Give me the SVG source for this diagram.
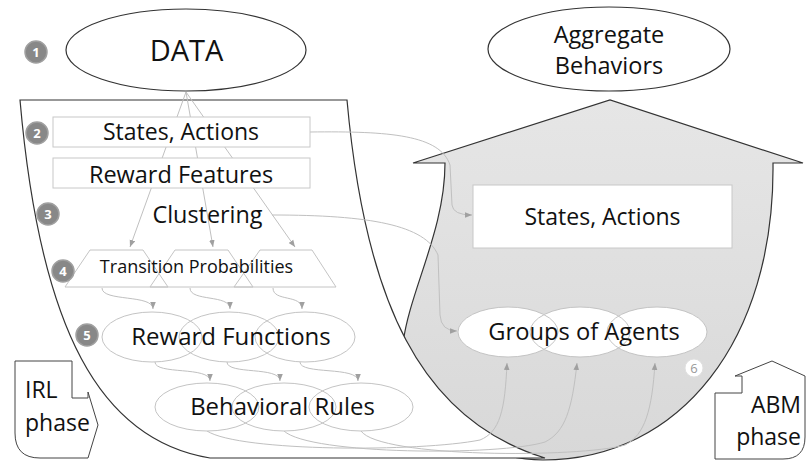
<svg xmlns="http://www.w3.org/2000/svg" width="807" height="461" viewBox="0 0 807 461">
  <defs>
    <linearGradient id="abmFill" x1="0" y1="0" x2="0" y2="1">
      <stop offset="0" stop-color="#e6e6e6"/>
      <stop offset="1" stop-color="#d8d8d8"/>
    </linearGradient>
    <marker id="ah" viewBox="0 0 10 10" refX="10" refY="5" markerWidth="7" markerHeight="7" markerUnits="userSpaceOnUse" orient="auto">
      <path d="M0,1 L10,5 L0,9 Z" fill="#a0a0a0"/>
    </marker>
    <style>
      text { font-family: "Open Sans", "Liberation Sans", sans-serif; fill: #111; }
      .t { font-size: 23.5px; text-anchor: middle; }
      .tp { font-size: 18px; text-anchor: middle; }
      .phase { font-size: 23px; }
      .big { stroke: #333; stroke-width: 1.2; }
      .box { fill: #fff; stroke: #c8c8c8; stroke-width: 1; }
      .soft { fill: none; stroke: #c4c4c4; stroke-width: 1; }
      .fillw { fill: #fff; stroke: none; }
      .conn { fill: none; stroke: #c0c0c0; stroke-width: 1; marker-end: url(#ah); }
      .num circle { fill: #888; stroke: #a0a0a0; stroke-width: 1.5; }
      .num text { font-size: 13px; font-weight: bold; fill: #fff; text-anchor: middle; }
    </style>
  </defs>

  <rect width="807" height="461" fill="#fff"/>

  <!-- ABM phase: upward arrow with rounded bowl -->
  <path id="abm-region" class="big" fill="url(#abmFill)"
        d="M413,163 L610,100 L803,163 L773,163 C775,340 680,460 543,460 C470,460 395,400 403,343 C410,290 445,230 445,163 Z"/>

  <!-- IRL phase: curved band -->
  <path id="irl-region" class="big" fill="#fff"
        d="M20,100 L347,100 C365,300 420,420 545,458 L210,458 C100,440 40,330 20,100 Z"/>

  <!-- connectors -->
  <g id="connectors">
    <path class="conn" d="M186,92 L130,247"/>
    <path class="conn" d="M186,92 L213,247"/>
    <path class="conn" d="M186,92 L295,247"/>

    <path class="conn" d="M102,288 C102,302 153,294 153,309"/>
    <path class="conn" d="M190,288 C190,302 230,294 230,309"/>
    <path class="conn" d="M273,288 C273,302 302,294 302,309"/>

    <path class="conn" d="M155,362 C155,375 210,366 210,381"/>
    <path class="conn" d="M227,362 C227,375 280,366 280,381"/>
    <path class="conn" d="M300,362 C300,375 358,366 358,381"/>

    <path class="conn" d="M310,132 C390,131 440,135 450,165 L452,205 Q453,215 472,215"/>
    <path class="conn" d="M272,215 C370,215 425,225 438,255 L440,315 Q441,331 457,331"/>

    <path class="conn" d="M207,431 C240,452 420,452 480,440 C500,432 505,410 507,363"/>
    <path class="conn" d="M284,431 C310,455 500,456 545,442 C565,432 572,410 577,363"/>
    <path class="conn" d="M361,431 C380,458 580,458 625,445 C645,435 652,410 655,363"/>
  </g>

  <!-- nodes -->
  <g id="data">
    <ellipse class="big" fill="#fff" cx="186" cy="50" rx="120" ry="41"/>
    <text x="186.5" y="61" style="font-size:29px;text-anchor:middle">DATA</text>
  </g>

  <g id="aggregate-behaviors">
    <ellipse class="big" fill="#fff" cx="609" cy="49" rx="121" ry="42"/>
    <text class="t" x="609" y="42.5">Aggregate</text>
    <text class="t" x="609" y="74">Behaviors</text>
  </g>

  <g id="states-actions-irl">
    <rect class="box" x="53" y="117" width="257" height="30"/>
    <text class="t" x="181" y="140" style="font-size:23px">States, Actions</text>
  </g>

  <g id="reward-features">
    <rect class="box" x="53" y="158" width="257" height="30"/>
    <text class="t" x="181" y="182.5" style="font-size:23.5px">Reward Features</text>
  </g>

  <g id="clustering">
    <text class="t" x="207.5" y="223" style="font-size:23.4px">Clustering</text>
  </g>

  <g id="transition-probabilities">
    <path class="fillw" d="M90,250 L143,250 L168,287 L65,287 Z M175,250 L228,250 L253,287 L150,287 Z M260,250 L312,250 L336,287 L234,287 Z"/>
    <path class="soft" d="M90,250 L143,250 L168,287 L65,287 Z M175,250 L228,250 L253,287 L150,287 Z M260,250 L312,250 L336,287 L234,287 Z"/>
    <text class="tp" x="196.5" y="272.5">Transition Probabilities</text>
  </g>

  <g id="reward-functions">
    <ellipse class="fillw" cx="152" cy="337" rx="50" ry="25"/>
    <ellipse class="fillw" cx="229" cy="337" rx="50" ry="25"/>
    <ellipse class="fillw" cx="305" cy="337" rx="50" ry="25"/>
    <ellipse class="soft" cx="152" cy="337" rx="50" ry="25"/>
    <ellipse class="soft" cx="229" cy="337" rx="50" ry="25"/>
    <ellipse class="soft" cx="305" cy="337" rx="50" ry="25"/>
    <text class="t" x="231" y="345" style="font-size:24px">Reward Functions</text>
  </g>

  <g id="behavioral-rules">
    <ellipse class="fillw" cx="207" cy="407" rx="52" ry="24"/>
    <ellipse class="fillw" cx="284" cy="407" rx="52" ry="24"/>
    <ellipse class="fillw" cx="361" cy="407" rx="52" ry="24"/>
    <ellipse class="soft" cx="207" cy="407" rx="52" ry="24"/>
    <ellipse class="soft" cx="284" cy="407" rx="52" ry="24"/>
    <ellipse class="soft" cx="361" cy="407" rx="52" ry="24"/>
    <text class="t" x="282.5" y="415" style="font-size:23.9px">Behavioral Rules</text>
  </g>

  <g id="states-actions-abm">
    <rect class="box" x="473" y="185" width="259" height="63"/>
    <text class="t" x="602.5" y="225" style="font-size:23px">States, Actions</text>
  </g>

  <g id="groups-of-agents">
    <ellipse class="fillw" cx="508" cy="332" rx="50" ry="25"/>
    <ellipse class="fillw" cx="580" cy="332" rx="50" ry="25"/>
    <ellipse class="fillw" cx="657" cy="332" rx="50" ry="25"/>
    <ellipse class="soft" cx="508" cy="332" rx="50" ry="25"/>
    <ellipse class="soft" cx="580" cy="332" rx="50" ry="25"/>
    <ellipse class="soft" cx="657" cy="332" rx="50" ry="25"/>
    <text class="t" x="584" y="340" style="font-size:23.7px">Groups of Agents</text>
  </g>

  <!-- step markers -->
  <g id="step-1" class="num"><circle cx="36" cy="52" r="11"/><text x="36" y="56.5">1</text></g>
  <g id="step-2" class="num"><circle cx="37" cy="133" r="11"/><text x="37" y="137.5">2</text></g>
  <g id="step-3" class="num"><circle cx="48" cy="214" r="11"/><text x="48" y="218.5">3</text></g>
  <g id="step-4" class="num"><circle cx="63" cy="271" r="11"/><text x="63" y="275.5">4</text></g>
  <g id="step-5" class="num"><circle cx="87" cy="335" r="11"/><text x="87" y="339.5">5</text></g>
  <g id="step-6">
    <circle cx="694" cy="368" r="9" fill="#fff" stroke="#e0e0e0"/>
    <text x="694" y="373" style="font-size:13px;text-anchor:middle;fill:#999">6</text>
  </g>

  <!-- phase labels -->
  <g id="irl-phase">
    <path d="M15,361 L72,361 L72,398 L88,398 L88,392 L98,425 L88,458 L40,458 Q15,458 15,433 Z" fill="#fff" stroke="#444" stroke-width="1"/>
    <text class="phase" x="25" y="398">IRL</text>
    <text class="phase" x="25" y="431">phase</text>
  </g>

  <g id="abm-phase">
    <path d="M715,459 L715,393 L742,393 L742,376 L735,376 L772,361 L805,376 L805,437 Q805,459 783,459 Z" fill="#fff" stroke="#444" stroke-width="1"/>
    <text class="phase" x="801" y="413" text-anchor="end">ABM</text>
    <text class="phase" x="801" y="445" text-anchor="end">phase</text>
  </g>
</svg>
